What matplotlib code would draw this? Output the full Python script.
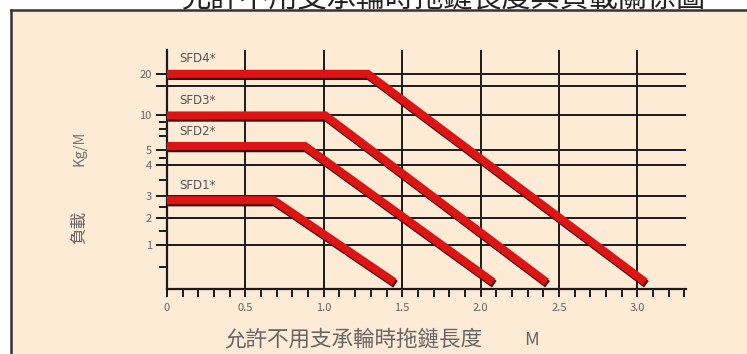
import numpy as np
import matplotlib
matplotlib.use('Agg')
import matplotlib.pyplot as plt
import matplotlib.patheffects as pe
from matplotlib.patches import Rectangle
from matplotlib.lines import Line2D

plt.rcParams['font.family'] = ['Noto Sans CJK TC', 'DejaVu Sans']

# 數據：每條曲線 (長度 M, 負載 Kg/M)
series_names = ['SFD4*', 'SFD3*', 'SFD2*', 'SFD1*']
series_x = [
    [0, 1.28, 3.05],
    [0, 1.01, 2.42],
    [0, 0.88, 2.08],
    [0, 0.68, 1.45],
]
series_y = [
    [20, 20, 0.16],
    [10, 10, 0.16],
    [5.6, 5.6, 0.16],
    [2.8, 2.8, 0.16],
]

x_major = [0, 0.5, 1.0, 1.5, 2.0, 2.5, 3.0]
x_labels = ['0', '0.5', '1.0', '1.5', '2.0', '2.5', '3.0']
y_major = [1, 2, 3, 4, 5, 10, 20]
y_labels = ['1', '2', '3', '4', '5', '10', '20']
y_extra_grid = [15]
y_minor = [0.5, 1.5, 2.5, 3.5, 4.5, 7, 8, 9]

# 原圖縱軸刻度並非均勻，用分段線性比例尺重現
y_knots = [0, 1, 2, 3, 4, 5, 10, 15, 20, 30]
y_knot_pos = [0, 44, 72, 94, 125, 140, 175, 205, 217, 241]


def fwd(v):
    return np.interp(v, y_knots, y_knot_pos)


def inv(p):
    return np.interp(p, y_knot_pos, y_knots)


W, H = 747, 354
fig = plt.figure(figsize=(W / 100, H / 100), dpi=100)
fig.patch.set_facecolor('white')

bg = '#fdebd6'
# 外框
fig.add_artist(Rectangle((11 / W, 0), 1, 1 - 10 / H, transform=fig.transFigure,
                         facecolor=bg, edgecolor='none', zorder=0))
fig.add_artist(Line2D([11 / W, 11 / W], [0, 1 - 10 / H], transform=fig.transFigure,
                      color='#333333', lw=1.8))
fig.add_artist(Line2D([11 / W, 1], [1 - 10 / H, 1 - 10 / H], transform=fig.transFigure,
                      color='#333333', lw=1.8))

ax = fig.add_axes([167 / W, 1 - 289 / H, (686 - 167) / W, (289 - 50) / H])
ax.set_facecolor('none')
ax.set_yscale('function', functions=(fwd, inv))
ax.set_xlim(0, 3.31)
ax.set_ylim(0, 30)

gcol = '#1a1a1a'
for v in y_major + y_extra_grid:
    ax.axhline(v, color=gcol, lw=1.4, zorder=1)
for v in x_major:
    ax.axvline(v, color=gcol, lw=1.4, zorder=1)

for s in ['top', 'right']:
    ax.spines[s].set_visible(False)
ax.spines['left'].set_linewidth(1.6)
ax.spines['bottom'].set_linewidth(1.6)
ax.spines['left'].set_color(gcol)
ax.spines['bottom'].set_color(gcol)

ax.set_xticks(x_major)
ax.set_xticklabels(x_labels)
ax.set_xticks(np.round(np.arange(0, 3.31, 0.1), 2), minor=True)
ax.tick_params(axis='x', which='both', direction='out', length=6, width=1.4,
               color=gcol, labelsize=8, labelcolor='#666666', pad=4)

ax.set_yticks(y_major + y_extra_grid)
ax.set_yticklabels(y_labels + [''])
ax.set_yticks(y_minor, minor=True)
ax.tick_params(axis='y', which='major', direction='out', length=8, width=1.4,
               color=gcol, labelsize=8, labelcolor='#666666', pad=3)
ax.tick_params(axis='y', which='minor', direction='out', length=6, width=1.4,
               color=gcol)

red = '#dc1414'
for name, xs, ys in zip(series_names, series_x, series_y):
    ax.plot(xs, ys, color=red, lw=5.8, solid_capstyle='butt', solid_joinstyle='miter',
            zorder=3,
            path_effects=[pe.SimpleLineShadow(offset=(0.8, -1.6), shadow_color='#3a0505',
                                              alpha=0.95),
                          pe.Normal()])
    ax.annotate(name, (0.08, ys[0]), xytext=(0, 6), textcoords='offset points',
                fontsize=8.5, color='#555555', va='bottom', ha='left',
                family=['DejaVu Sans'])

fig.text(80 / W, 1 - 148 / H, 'Kg/M', rotation=90, ha='center', va='center',
         fontsize=10.5, color='#777777')
fig.text(80 / W, 1 - 227 / H, '負載', rotation=90, ha='center', va='center',
         fontsize=12, color='#666666')
fig.text(353 / W, 1 - 340 / H, '允許不用支承輪時拖鏈長度', ha='center', va='center',
         fontsize=15.5, color='#666666')
fig.text(532 / W, 1 - 340 / H, 'M', ha='center', va='center',
         fontsize=13, color='#666666')

# 標題（原圖頂部被截去）
fig.text(443 / W, 1 - 6 / H, '允許不用支承輪時拖鏈長度與負載關係圖', ha='center',
         va='baseline', fontsize=21, color='#222222')

fig.savefig('out.png', dpi=100)
